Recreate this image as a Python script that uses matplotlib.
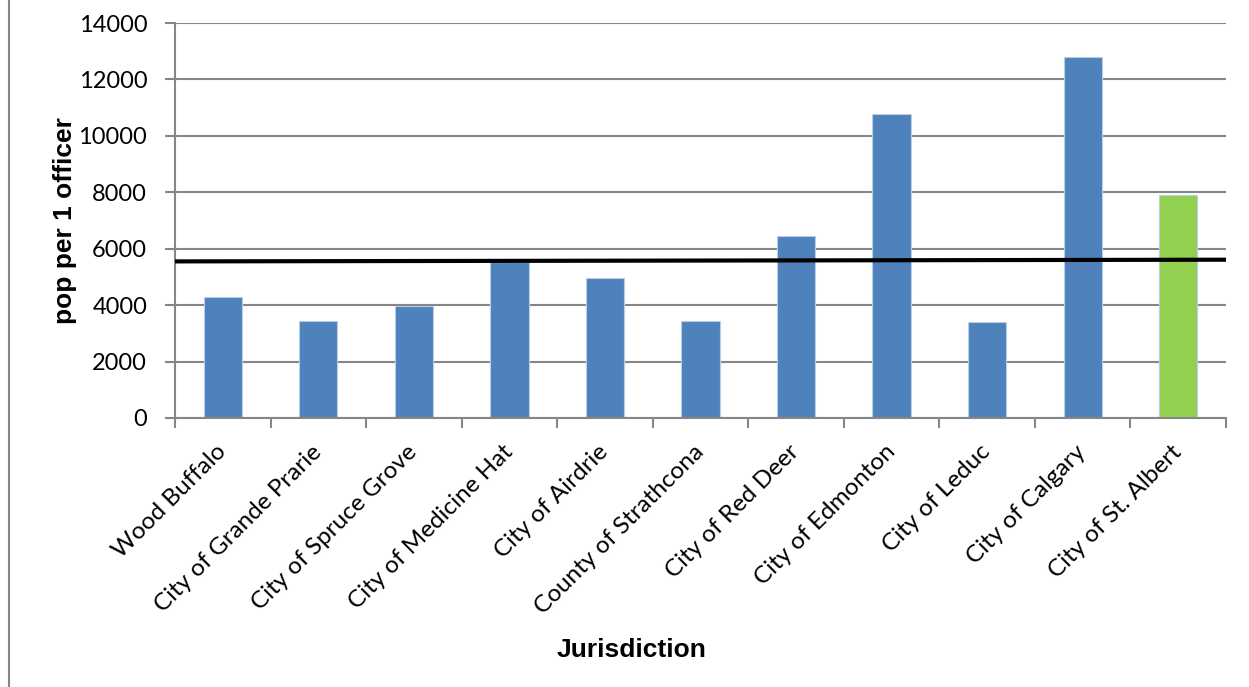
import matplotlib
matplotlib.use('Agg')
import matplotlib.pyplot as plt
from matplotlib.lines import Line2D

# Values
jurisdictions = ['Wood Buffalo', 'City of Grande Prarie', 'City of Spruce Grove',
                 'City of Medicine Hat', 'City of Airdrie', 'County of Strathcona',
                 'City of Red Deer', 'City of Edmonton', 'City of Leduc',
                 'City of Calgary', 'City of St. Albert']
pop_per_officer = [4300, 3440, 3980, 5530, 4950, 3440, 6460, 10770, 3400, 12780, 7910]
bar_colors = ['#4F81BD'] * 10 + ['#92D050']
# black reference line (start / end value)
ref_line = [5550, 5610]
y_ticks = [0, 2000, 4000, 6000, 8000, 10000, 12000, 14000]

fig = plt.figure(figsize=(12.49, 6.87), dpi=100)
ax = fig.add_axes([0.1401, 0.3916, 0.8415, 0.5749])

x = list(range(len(jurisdictions)))
ax.bar(x, pop_per_officer, width=0.4, color=bar_colors,
       edgecolor='#B9CDE5', linewidth=0.8, zorder=2)
ax.plot([-0.5, len(x) - 0.5], ref_line, color='black', linewidth=3, zorder=3)

ax.set_xlim(-0.5, len(x) - 0.5)
ax.set_ylim(0, 14000)
ax.set_yticks(y_ticks)
ax.set_yticklabels([str(v) for v in y_ticks], fontfamily='Lato', fontsize=17)
ax.yaxis.grid(True, color='#868686', linewidth=1.5, zorder=0)
ax.set_axisbelow(True)

# category labels at bar centers, tick marks at category boundaries
ax.set_xticks(x)
ax.set_xticklabels(jurisdictions, rotation=45, ha='right', va='center',
                   rotation_mode='anchor', fontfamily='Lato', fontsize=17.5)
ax.set_xticks([i - 0.5 for i in range(len(x) + 1)], minor=True)
ax.tick_params(axis='x', which='major', length=0, pad=22)
ax.tick_params(axis='x', which='minor', length=7, width=1.5, color='#868686')
ax.tick_params(axis='y', length=7, width=1.5, color='#868686', pad=13)

for side in ['top', 'right']:
    ax.spines[side].set_visible(False)
for side in ['left', 'bottom']:
    ax.spines[side].set_color('#868686')
    ax.spines[side].set_linewidth(1.5)

ax.set_ylabel('pop per 1 officer', fontfamily='Liberation Sans', fontsize=19,
              fontweight='bold')
ax.yaxis.set_label_coords(-0.093, 0.5)
fig.text(0.506, 0.054, 'Jurisdiction', fontfamily='Liberation Sans', fontsize=19,
         fontweight='bold', ha='center', va='center')

# grey frame edge on the left of the picture
fig.add_artist(Line2D([0.0072, 0.0072], [0, 1], color='#868686', linewidth=1.5,
                      transform=fig.transFigure))

fig.savefig('out.png', dpi=100)
